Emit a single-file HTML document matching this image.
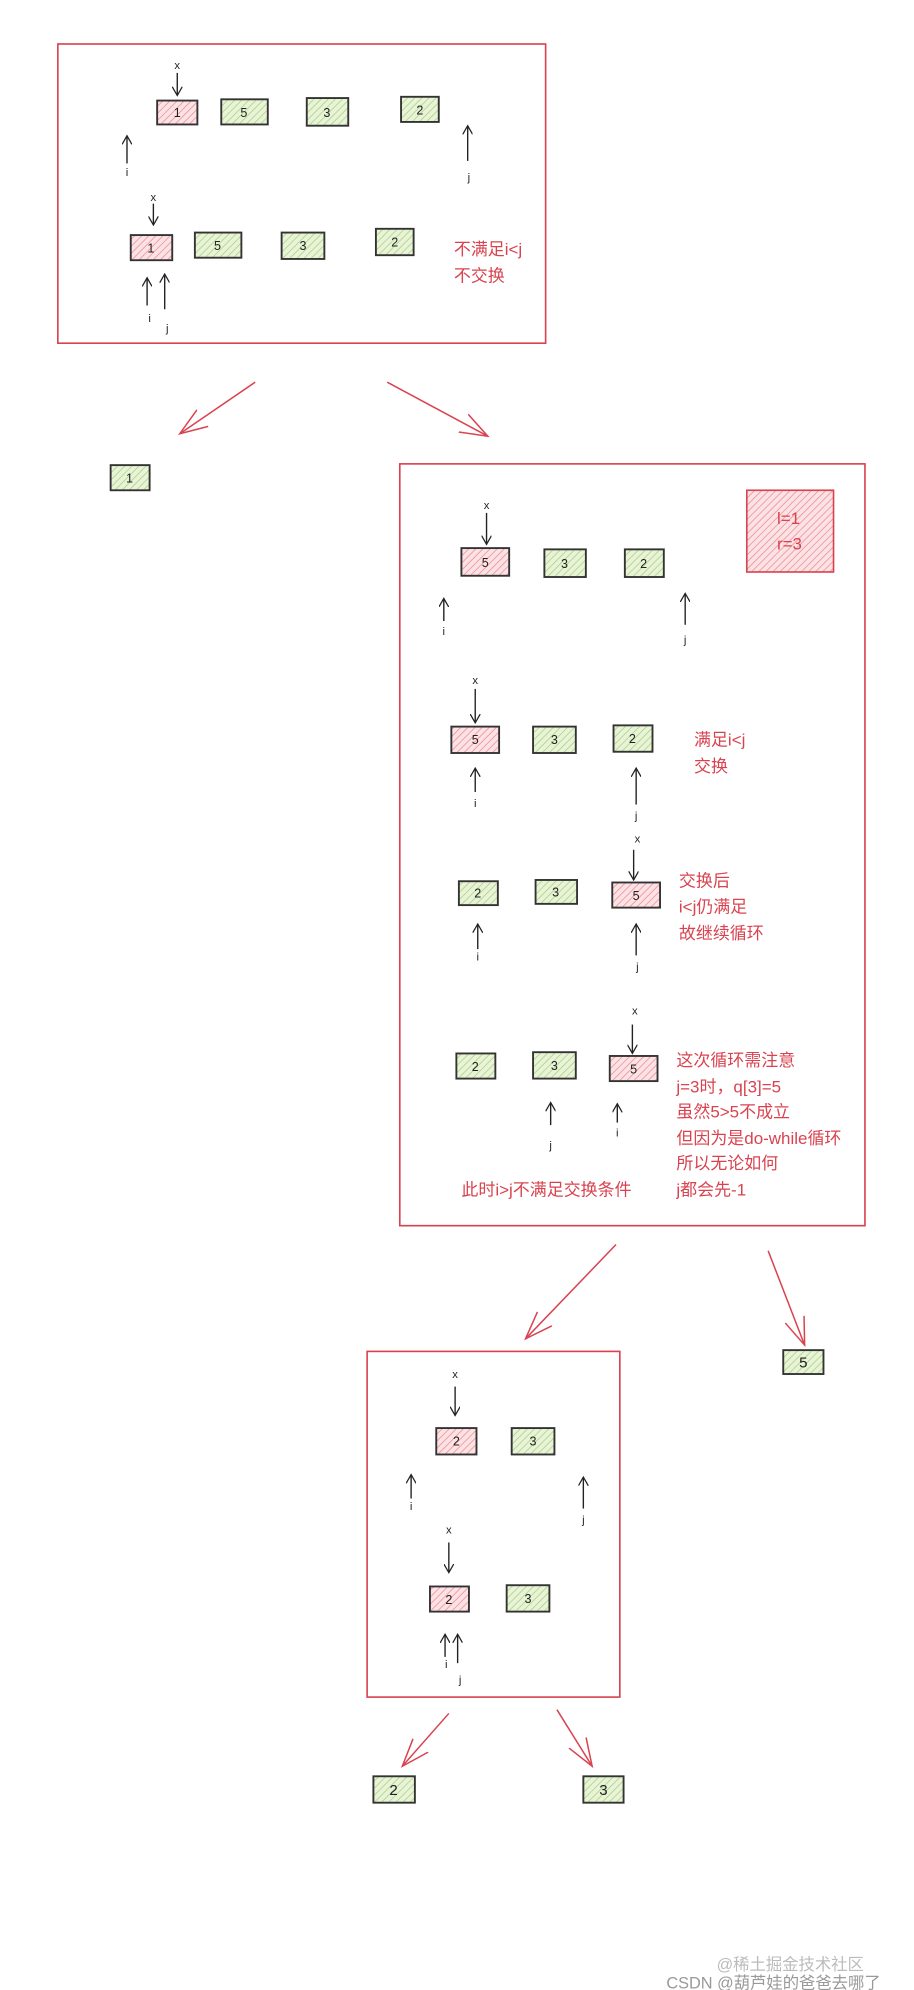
<!DOCTYPE html>
<html><head><meta charset="utf-8"><style>
html,body{margin:0;padding:0;background:#fff;}
svg{display:block;}
text{font-family:"Liberation Sans","Noto Sans CJK SC",sans-serif;}
.r{fill:#d9434f;font-size:13.5px;}
.k{fill:#222;font-size:9px;}
.n{fill:#222;font-size:10px;text-anchor:middle;}
</style></head><body>
<svg width="914" height="1990" viewBox="0 0 727 1583" preserveAspectRatio="none" xmlns="http://www.w3.org/2000/svg">
<defs>
<pattern id="hg" width="4" height="4" patternUnits="userSpaceOnUse" patternTransform="rotate(45)">
<rect width="4" height="4" fill="#e8f3d8"/><line x1="0" y1="0" x2="0" y2="4" stroke="#a9d27f" stroke-width="1.2"/></pattern>
<pattern id="hp" width="4" height="4" patternUnits="userSpaceOnUse" patternTransform="rotate(45)">
<rect width="4" height="4" fill="#fbe3e5"/><line x1="0" y1="0" x2="0" y2="4" stroke="#f08a94" stroke-width="1.2"/></pattern>
<marker id="ab" markerWidth="8" markerHeight="8" refX="7" refY="4" orient="auto" markerUnits="userSpaceOnUse"><path d="M0,0 L7,4 L0,8" fill="none" stroke="#222" stroke-width="1"/></marker>
<marker id="ar" markerWidth="24" markerHeight="20" refX="22" refY="10" orient="auto" markerUnits="userSpaceOnUse"><path d="M0,2 L22,10 L0,18" fill="none" stroke="#d9434f" stroke-width="1.2"/></marker>
</defs>
<g fill="none" stroke="#d9434f" stroke-width="1.3">
<rect x="46" y="35" width="388" height="238"/>
<rect x="318" y="369" width="370" height="606"/>
<rect x="292" y="1075" width="201" height="275"/>
</g>
<g stroke="#d9434f" stroke-width="1.2" marker-end="url(#ar)">
<line x1="203" y1="304" x2="143" y2="345"/>
<line x1="308" y1="304" x2="388" y2="347"/>
<line x1="490" y1="990" x2="418" y2="1065"/>
<line x1="611" y1="995" x2="640" y2="1070"/>
<line x1="357" y1="1363" x2="320" y2="1405"/>
<line x1="443" y1="1360" x2="471" y2="1405"/>
</g>
<g stroke="#333" stroke-width="1.5">
<rect x="125" y="80" width="32" height="19" fill="url(#hp)"/>
<rect x="176" y="79" width="37" height="20" fill="url(#hg)"/>
<rect x="244" y="78" width="33" height="22" fill="url(#hg)"/>
<rect x="319" y="77" width="30" height="20" fill="url(#hg)"/>
<rect x="104" y="187" width="33" height="20" fill="url(#hp)"/>
<rect x="155" y="185" width="37" height="20" fill="url(#hg)"/>
<rect x="224" y="185" width="34" height="21" fill="url(#hg)"/>
<rect x="299" y="182" width="30" height="21" fill="url(#hg)"/>
<rect x="88" y="370" width="31" height="20" fill="url(#hg)"/>
<rect x="367" y="436" width="38" height="22" fill="url(#hp)"/>
<rect x="433" y="437" width="33" height="22" fill="url(#hg)"/>
<rect x="497" y="437" width="31" height="22" fill="url(#hg)"/>
<rect x="359" y="578" width="38" height="21" fill="url(#hp)"/>
<rect x="424" y="578" width="34" height="21" fill="url(#hg)"/>
<rect x="488" y="577" width="31" height="21" fill="url(#hg)"/>
<rect x="365" y="701" width="31" height="19" fill="url(#hg)"/>
<rect x="426" y="700" width="33" height="19" fill="url(#hg)"/>
<rect x="487" y="702" width="38" height="20" fill="url(#hp)"/>
<rect x="363" y="838" width="31" height="20" fill="url(#hg)"/>
<rect x="424" y="837" width="34" height="21" fill="url(#hg)"/>
<rect x="485" y="840" width="38" height="20" fill="url(#hp)"/>
<rect x="623" y="1074" width="32" height="19" fill="url(#hg)"/>
<rect x="347" y="1136" width="32" height="21" fill="url(#hp)"/>
<rect x="407" y="1136" width="34" height="21" fill="url(#hg)"/>
<rect x="342" y="1262" width="31" height="20" fill="url(#hp)"/>
<rect x="403" y="1261" width="34" height="21" fill="url(#hg)"/>
<rect x="297" y="1413" width="33" height="21" fill="url(#hg)"/>
<rect x="464" y="1413" width="32" height="21" fill="url(#hg)"/>
</g>
<rect x="594" y="390" width="69" height="65" fill="url(#hp)" stroke="#d9434f" stroke-width="1.3"/>
<text class="r" x="618" y="417" font-size="12">l=1</text>
<text class="r" x="618" y="437" font-size="12">r=3</text>
<g stroke="#222" stroke-width="1.1" marker-end="url(#ab)">
<line x1="141" y1="58" x2="141" y2="76"/>
<line x1="101" y1="130" x2="101" y2="108"/>
<line x1="372" y1="128" x2="372" y2="100"/>
<line x1="122" y1="162" x2="122" y2="179"/>
<line x1="117" y1="243" x2="117" y2="221"/>
<line x1="131" y1="246" x2="131" y2="218"/>
<line x1="387" y1="408" x2="387" y2="433"/>
<line x1="353" y1="494" x2="353" y2="476"/>
<line x1="545" y1="497" x2="545" y2="472"/>
<line x1="378" y1="548" x2="378" y2="575"/>
<line x1="378" y1="630" x2="378" y2="611"/>
<line x1="506" y1="640" x2="506" y2="611"/>
<line x1="504" y1="676" x2="504" y2="700"/>
<line x1="380" y1="755" x2="380" y2="735"/>
<line x1="506" y1="760" x2="506" y2="735"/>
<line x1="503" y1="815" x2="503" y2="838"/>
<line x1="438" y1="895" x2="438" y2="877"/>
<line x1="491" y1="893" x2="491" y2="878"/>
<line x1="362" y1="1103" x2="362" y2="1126"/>
<line x1="327" y1="1192" x2="327" y2="1173"/>
<line x1="464" y1="1200" x2="464" y2="1175"/>
<line x1="357" y1="1227" x2="357" y2="1251"/>
<line x1="354" y1="1318" x2="354" y2="1300"/>
<line x1="364" y1="1323" x2="364" y2="1300"/>
</g>
<g class="n">
<text x="141" y="93">1</text><text x="194" y="93">5</text><text x="260" y="93">3</text><text x="334" y="91">2</text>
<text x="120" y="201">1</text><text x="173" y="199">5</text><text x="241" y="199">3</text><text x="314" y="196">2</text>
<text x="103" y="384">1</text>
<text x="386" y="451">5</text><text x="449" y="452">3</text><text x="512" y="452">2</text>
<text x="378" y="592">5</text><text x="441" y="592">3</text><text x="503" y="591">2</text>
<text x="380" y="714">2</text><text x="442" y="713">3</text><text x="506" y="716">5</text>
<text x="378" y="852">2</text><text x="441" y="851">3</text><text x="504" y="854">5</text>
<text x="639" y="1088" font-size="12">5</text>
<text x="363" y="1150">2</text><text x="424" y="1150">3</text>
<text x="357" y="1276">2</text><text x="420" y="1275">3</text>
<text x="313" y="1428" font-size="12">2</text><text x="480" y="1428" font-size="12">3</text>
</g>
<g class="k" text-anchor="middle">
<text x="141" y="55">x</text><text x="101" y="140">i</text><text x="373" y="144">j</text>
<text x="122" y="160">x</text><text x="119" y="256">i</text><text x="133" y="264">j</text>
<text x="387" y="405">x</text><text x="353" y="505">i</text><text x="545" y="512">j</text>
<text x="378" y="544">x</text><text x="378" y="642">i</text><text x="506" y="652">j</text>
<text x="507" y="670">x</text><text x="380" y="764">i</text><text x="507" y="772">j</text>
<text x="505" y="807">x</text><text x="438" y="914">j</text><text x="491" y="904">i</text>
<text x="362" y="1096">x</text><text x="327" y="1201">i</text><text x="464" y="1212">j</text>
<text x="357" y="1220">x</text><text x="355" y="1327">i</text><text x="366" y="1339">j</text>
</g>
<g class="r">
<text x="361" y="203">不满足i&lt;j</text>
<text x="361" y="224">不交换</text>
<text x="552" y="593">满足i&lt;j</text>
<text x="552" y="614">交换</text>
<text x="540" y="705">交换后</text>
<text x="540" y="726">i&lt;j仍满足</text>
<text x="540" y="747">故继续循环</text>
<text x="538" y="848">这次循环需注意</text>
<text x="538" y="869">j=3时，q[3]=5</text>
<text x="538" y="889">虽然5&gt;5不成立</text>
<text x="538" y="910">但因为是do-while循环</text>
<text x="538" y="930">所以无论如何</text>
<text x="538" y="951">j都会先-1</text>
<text x="367" y="951">此时i&gt;j不满足交换条件</text>
</g>
<text x="570" y="1567" fill="#bbb" font-size="13">@稀土掘金技术社区</text>
<text x="530" y="1583" fill="#999" font-size="13" dy="-1">CSDN @葫芦娃的爸爸去哪了</text>
</svg>
</body></html>
